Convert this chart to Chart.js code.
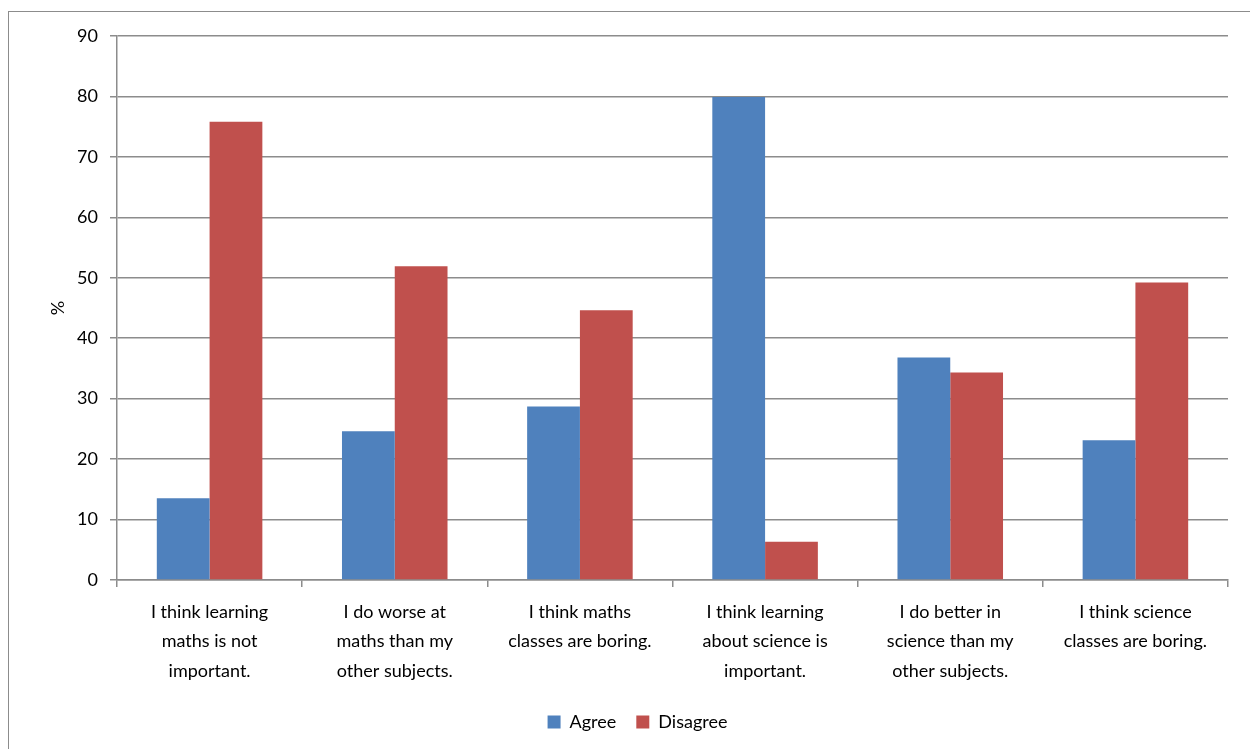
<!DOCTYPE html>
<html>
<head>
<meta charset="utf-8">
<script src="https://cdn.jsdelivr.net/npm/chart.js@4"></script>
<style>
  body { margin: 0; background: #fff; }
  #wrap { position: relative; width: 1250px; height: 749px; overflow: hidden; }
  #frame { position: absolute; left: 8px; top: 11px; width: 1300px; height: 800px;
           border: 1px solid #8c8c8c; pointer-events: none; }
</style>
</head>
<body>
<div id="wrap">
  <canvas id="survey" width="1250" height="749"></canvas>
  <div id="frame"></div>
</div>
<script>
const categories = [
  ['I think learning', 'maths is not', 'important.'],
  ['I do worse at', 'maths than my', 'other subjects.'],
  ['I think maths', 'classes are boring.'],
  ['I think learning', 'about science is', 'important.'],
  ['I do better in', 'science than my', 'other subjects.'],
  ['I think science', 'classes are boring.']
];
const agree = [13.5, 24.6, 28.7, 79.9, 36.8, 23.1];
const disagree = [75.8, 51.9, 44.6, 6.3, 34.3, 49.2];

const fontFamily = 'Lato, "Open Sans", sans-serif';

new Chart(document.getElementById('survey'), {
  type: 'bar',
  data: {
    labels: categories,
    datasets: [
      { label: 'Agree', data: agree, backgroundColor: '#4F81BD' },
      { label: 'Disagree', data: disagree, backgroundColor: '#C0504D' }
    ]
  },
  options: {
    responsive: false,
    animation: false,
    layout: { padding: { left: 47, right: 22, top: 36, bottom: 8 } },
    datasets: { bar: { categoryPercentage: 0.57, barPercentage: 1 } },
    scales: {
      y: {
        min: 0,
        max: 90,
        ticks: { stepSize: 10, color: '#000', padding: 12, font: { family: fontFamily, size: 18 } },
        grid: { color: '#8c8c8c', lineWidth: 1.5, tickLength: 7 },
        border: { color: '#8c8c8c', width: 1.5 },
        title: { display: true, text: '%', color: '#000', font: { family: fontFamily, size: 18 }, padding: 0 },
        afterFit: s => { s.width = 70; }
      },
      x: {
        ticks: { color: '#000', maxRotation: 0, padding: 10, font: { family: fontFamily, size: 18, lineHeight: 1.65 } },
        grid: { drawOnChartArea: false, color: '#8c8c8c', lineWidth: 1.5, tickLength: 7 },
        border: { color: '#8c8c8c', width: 1.5 },
        afterFit: s => { s.height -= 3; }
      }
    },
    plugins: {
      legend: {
        position: 'bottom',
        labels: { color: '#000', boxWidth: 13, boxHeight: 13, padding: 20, font: { family: fontFamily, size: 18 } }
      },
      tooltip: { enabled: false }
    }
  }
});
</script>
</body>
</html>
